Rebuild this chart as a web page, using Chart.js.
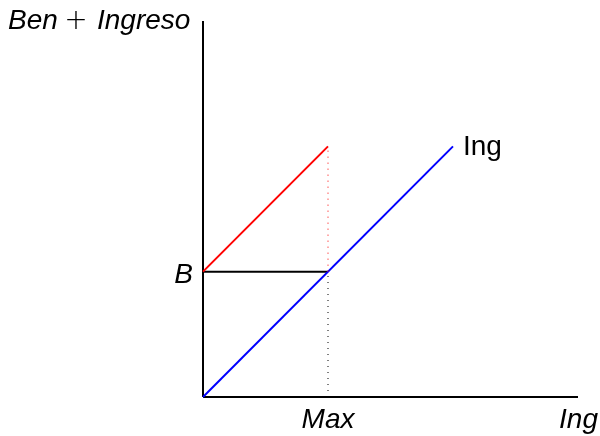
<!DOCTYPE html>
<html lang="es">
    <head>
        <meta charset="UTF-8" />
        <title>Ben + Ingreso</title>
        <script src="https://cdn.jsdelivr.net/npm/chart.js"></script>
        <style>
            body { margin: 0; background: #fff; }
        </style>
    </head>
    <body>
        <canvas id="chart" width="600" height="436"></canvas>

        <script>
            // rangos de los ejes
            const xMax = 3;
            const yMax = 3;

            // recta de ingreso (azul)
            const ingX = [0, 2];
            const ingY = [0, 2];

            // beneficio + ingreso (rojo)
            const benX = [0, 1];
            const benY = [1, 2];

            // nivel B (negro)
            const bX = [0, 1];
            const bY = [1, 1];

            // punto máximo
            const maxX = 1;
            const bLevel = 1;
            const topLevel = 2;

            // textos
            const yTitle = ["Ben", "+", "Ingreso"];
            const xTitle = "Ing";
            const maxLabel = "Max";
            const bLabel = "B";
            const lineLabel = "Ing";

            const pts = (xs, ys) => xs.map((x, i) => ({ x: x, y: ys[i] }));

            function serie(data, color, width, dash) {
                return {
                    data: data,
                    borderColor: color,
                    borderWidth: width,
                    borderDash: dash || [],
                    pointRadius: 0,
                    showLine: true,
                    fill: false,
                    clip: false,
                    tension: 0,
                };
            }

            const textos = {
                id: "textos",
                afterDraw(chart) {
                    const ctx = chart.ctx;
                    const sx = chart.scales.x;
                    const sy = chart.scales.y;
                    const it = "italic 28px 'Liberation Sans', Arial, sans-serif";
                    const up = "300 28px 'DejaVu Sans', sans-serif";
                    ctx.save();
                    ctx.fillStyle = "#000";
                    ctx.textBaseline = "alphabetic";

                    // titulo eje y, con "+" recto
                    const yb = 29;
                    ctx.textAlign = "left";
                    ctx.font = it;
                    ctx.fillText(yTitle[0], 8, yb);
                    ctx.font = up;
                    ctx.textAlign = "center";
                    ctx.fillText(yTitle[1], 76, yb);
                    ctx.font = it;
                    ctx.textAlign = "left";
                    ctx.fillText(yTitle[2], 97, yb);

                    ctx.font = it;
                    ctx.textAlign = "right";
                    ctx.fillText(bLabel, sx.getPixelForValue(0) - 10, sy.getPixelForValue(bLevel) + 11);

                    ctx.textAlign = "center";
                    ctx.fillText(maxLabel, sx.getPixelForValue(maxX), sy.getPixelForValue(0) + 31);

                    ctx.textAlign = "right";
                    ctx.fillText(xTitle, 598, sy.getPixelForValue(0) + 31);

                    ctx.font = "28px 'Liberation Sans', Arial, sans-serif";
                    ctx.textAlign = "left";
                    ctx.fillText(
                        lineLabel,
                        sx.getPixelForValue(ingX[1]) + 10,
                        sy.getPixelForValue(ingY[1]) + 9
                    );
                    ctx.restore();
                },
            };

            new Chart(document.getElementById("chart").getContext("2d"), {
                type: "scatter",
                data: {
                    datasets: [
                        serie(pts([maxX, maxX], [bLevel, topLevel]), "#ff0000", 1, [1, 5]),
                        serie(pts([maxX, maxX], [0, bLevel]), "#000", 1, [1, 5]),
                        serie(pts(ingX, ingY), "#0000ff", 2),
                        serie(pts(benX, benY), "#ff0000", 2),
                        serie(pts(bX, bY), "#000", 2),
                        serie(pts([0, xMax], [0, 0]), "#000", 2),
                        serie(pts([0, 0], [0, yMax]), "#000", 2),
                    ],
                },
                options: {
                    responsive: false,
                    animation: false,
                    layout: { padding: { left: 203, right: 22, top: 21, bottom: 39 } },
                    plugins: { legend: { display: false }, tooltip: { enabled: false } },
                    scales: {
                        x: { type: "linear", display: false, min: 0, max: xMax },
                        y: { type: "linear", display: false, min: 0, max: yMax },
                    },
                },
                plugins: [textos],
            });
        </script>
    </body>
</html>
